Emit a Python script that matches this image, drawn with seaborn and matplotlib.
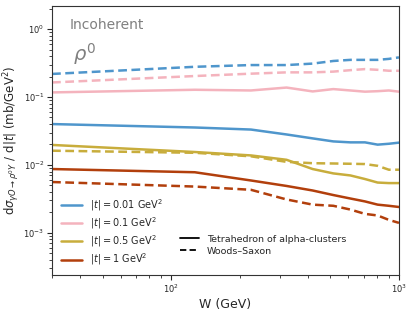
import numpy as np
import pandas as pd
import matplotlib.pyplot as plt
from matplotlib.lines import Line2D
import seaborn as sns

W = [30, 127, 224, 321, 418, 515, 612, 709, 806, 903, 1000]

T_LABELS = ["0.01", "0.1", "0.5", "1"]
MODELS = ["Tetrahedron of alpha-clusters", "Woods–Saxon"]

# |t| = 0.01
tetra_001 = [0.040, 0.0356, 0.0332, 0.0281, 0.0246, 0.0222, 0.0215, 0.0215, 0.0199, 0.0205, 0.0213]
ws_001 = [0.219, 0.279, 0.296, 0.296, 0.311, 0.340, 0.353, 0.353, 0.353, 0.365, 0.384]
# |t| = 0.1
tetra_01 = [0.117, 0.128, 0.125, 0.138, 0.121, 0.131, 0.125, 0.120, 0.122, 0.125, 0.120]
ws_01 = [0.164, 0.204, 0.221, 0.231, 0.231, 0.237, 0.249, 0.258, 0.252, 0.244, 0.244]
# |t| = 0.5
tetra_05 = [0.0197, 0.0155, 0.0138, 0.0119, 0.0087, 0.0075, 0.0070, 0.0062, 0.0055, 0.0054, 0.0054]
ws_05 = [0.0162, 0.0151, 0.0134, 0.0111, 0.0106, 0.0105, 0.0104, 0.0103, 0.0097, 0.0085, 0.0085]
# |t| = 1
tetra_1 = [0.0087, 0.0078, 0.0059, 0.0049, 0.0042, 0.0036, 0.0032, 0.0029, 0.0026, 0.0025, 0.0024]
ws_1 = [0.0056, 0.0048, 0.0043, 0.0031, 0.0026, 0.0025, 0.0022, 0.0019, 0.0018, 0.00155, 0.0014]

COLORS = ["#4f96cc", "#f4b3bd", "#c8ad3c", "#b23f0c"]

rows = []
series = [(tetra_001, ws_001), (tetra_01, ws_01), (tetra_05, ws_05), (tetra_1, ws_1)]
for t, (tet, ws) in zip(T_LABELS, series):
    for w, a, b in zip(W, tet, ws):
        rows.append({"W": w, "val": a, "t": t, "model": MODELS[0]})
        rows.append({"W": w, "val": b, "t": t, "model": MODELS[1]})
df = pd.DataFrame(rows)

sns.set_style("ticks")
fig = plt.figure(figsize=(4.13, 3.12), dpi=100)
ax = fig.add_axes([0.126, 0.119, 0.840, 0.862])

sns.lineplot(data=df, x="W", y="val", hue="t", style="model",
             palette=dict(zip(T_LABELS, COLORS)),
             dashes={MODELS[0]: "", MODELS[1]: (3.5, 1.8)},
             linewidth=1.8, legend=False, ax=ax)

ax.set_xscale("log")
ax.set_yscale("log")
ax.set_xlim(30, 1000)
ax.set_ylim(2.4e-4, 2.2)
ax.tick_params(labelsize=6, pad=2)
ax.tick_params(which="major", length=3.5)
ax.tick_params(which="minor", length=2)
ax.set_xlabel("W (GeV)", fontsize=9, labelpad=2)
ax.set_ylabel(r"d$\sigma_{\gamma O\to\rho^0 Y}$ / d$|t|$ (mb/GeV$^2$)",
              fontsize=8.5, labelpad=1)
for s in ax.spines.values():
    s.set_color("#333333")

ax.text(0.05, 0.93, "Incoherent", transform=ax.transAxes, fontsize=10,
        color="gray", va="center")
ax.text(0.06, 0.82, r"$\rho^0$", transform=ax.transAxes, fontsize=14,
        color="gray", va="center")

h1 = [Line2D([], [], color=c, lw=1.8) for c in COLORS]
l1 = [rf"$|t| = {t}$ GeV$^2$" for t in T_LABELS]
leg1 = ax.legend(h1, l1, loc="lower left", bbox_to_anchor=(0.0, -0.005),
                 frameon=False, fontsize=7, handlelength=2.2,
                 labelspacing=0.25)
ax.add_artist(leg1)

h2 = [Line2D([], [], color="black", lw=1.3),
      Line2D([], [], color="black", lw=1.3, dashes=(3.5, 1.8))]
ax.legend(h2, MODELS, loc="lower left", bbox_to_anchor=(0.345, 0.04),
          frameon=False, fontsize=6.8, handlelength=2.0, labelspacing=0.3)

fig.savefig("out.png", dpi=100)
